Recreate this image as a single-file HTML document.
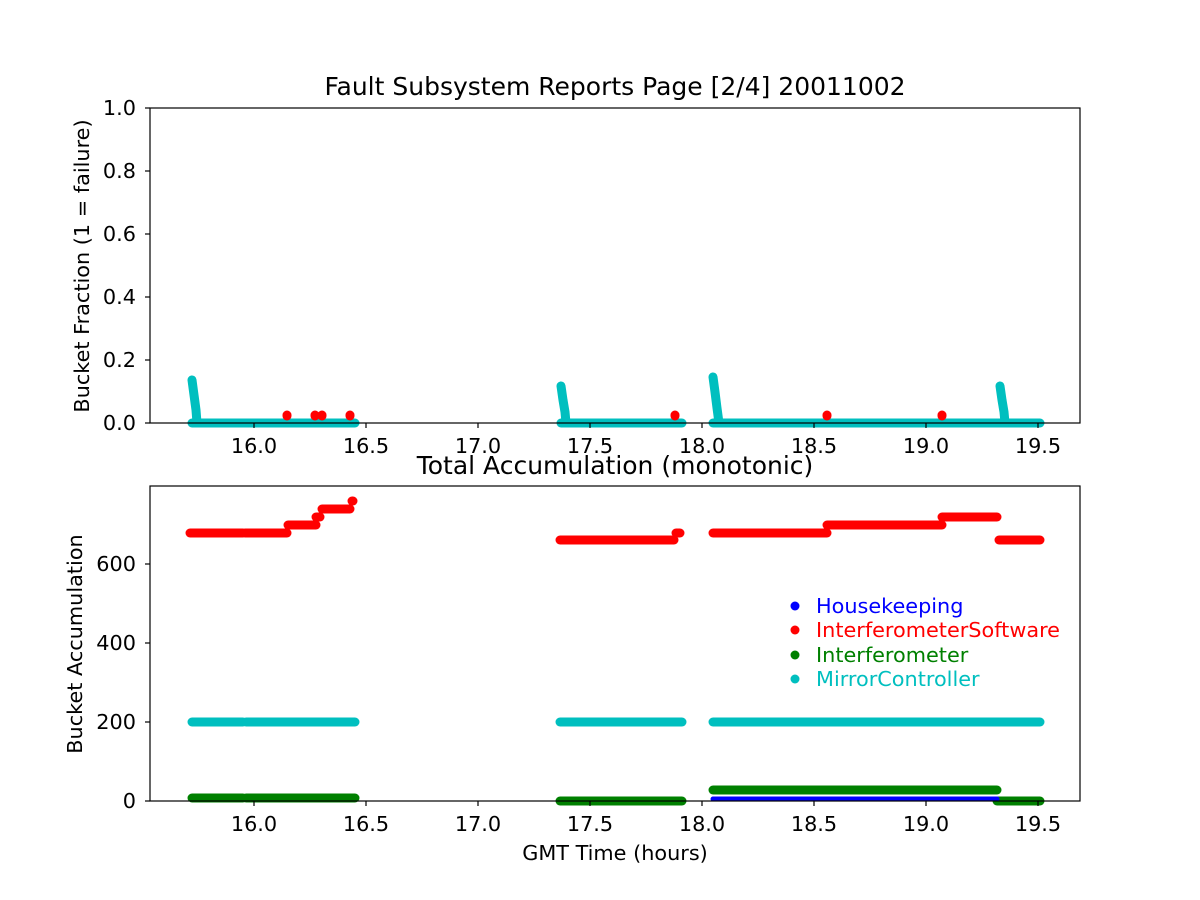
<!DOCTYPE html>
<html><head><meta charset="utf-8"><style>body{margin:0;background:#fff}svg{display:block}text{font-family:"DejaVu Sans","Liberation Sans",sans-serif;font-size:20.8px;fill:#000}</style></head><body>
<svg width="1200" height="900" viewBox="0 0 1200 900" xmlns="http://www.w3.org/2000/svg">
<rect width="1200" height="900" fill="#fff"/>
<g stroke-linecap="round" fill="none" stroke-width="9">
<g stroke="#00bfbf">
<polyline points="192,380 194,395 196,410 197,423"/>
<line x1="192" y1="423" x2="355" y2="423"/>
<polyline points="561,386 563,400 565,412 566,423"/>
<line x1="561" y1="423" x2="682" y2="423"/>
<polyline points="713,377 715,392 717,408 719,423"/>
<line x1="713" y1="423" x2="1040" y2="423"/>
<polyline points="1000,386 1002,400 1004,412 1005,423"/>
</g>
<g stroke="#ff0000">
<line x1="287" y1="415" x2="287" y2="416"/><line x1="315" y1="415" x2="315" y2="416"/><line x1="322" y1="415" x2="322" y2="416"/><line x1="350" y1="415" x2="350" y2="416"/><line x1="675" y1="415" x2="675" y2="416"/><line x1="827" y1="415" x2="827" y2="416"/><line x1="942" y1="415" x2="942" y2="416"/>
</g>
<g stroke="#00bfbf">
<line x1="192" y1="722" x2="243" y2="722"/><line x1="246" y1="722" x2="355" y2="722"/><line x1="560" y1="722" x2="682" y2="722"/><line x1="713" y1="722" x2="1040" y2="722"/>
</g>
<g stroke="#008000">
<line x1="192" y1="798" x2="243" y2="798"/><line x1="246" y1="798" x2="355" y2="798"/><line x1="560" y1="801" x2="682" y2="801"/><line x1="713" y1="790" x2="997" y2="790"/><line x1="997" y1="801" x2="1040" y2="801"/>
</g>
<line stroke="#0000ff" stroke-width="5" x1="713" y1="799" x2="997" y2="799"/>
<g stroke="#ff0000">
<line x1="190" y1="533" x2="243" y2="533"/><line x1="245" y1="533" x2="287" y2="533"/><line x1="288" y1="525" x2="316" y2="525"/><line x1="316" y1="517" x2="320" y2="517"/><line x1="322" y1="509" x2="350" y2="509"/><line x1="352" y1="501" x2="353" y2="501"/>
<line x1="560" y1="540" x2="674" y2="540"/><line x1="676" y1="533" x2="680" y2="533"/>
<line x1="713" y1="533" x2="827" y2="533"/><line x1="827" y1="525" x2="942" y2="525"/><line x1="942" y1="517" x2="997" y2="517"/><line x1="999" y1="540" x2="1040" y2="540"/>
</g>
</g>
<g fill="none" stroke="#000" stroke-width="1.2">
<rect x="150" y="108" width="930" height="315"/>
<rect x="150" y="486" width="930" height="315"/>
</g>
<g stroke="#000" stroke-width="1.2">
<line x1="254" y1="423" x2="254" y2="428"/><line x1="366" y1="423" x2="366" y2="428"/><line x1="478" y1="423" x2="478" y2="428"/><line x1="590" y1="423" x2="590" y2="428"/><line x1="702" y1="423" x2="702" y2="428"/><line x1="814" y1="423" x2="814" y2="428"/><line x1="926" y1="423" x2="926" y2="428"/><line x1="1038" y1="423" x2="1038" y2="428"/>
<line x1="254" y1="801" x2="254" y2="806"/><line x1="366" y1="801" x2="366" y2="806"/><line x1="478" y1="801" x2="478" y2="806"/><line x1="590" y1="801" x2="590" y2="806"/><line x1="702" y1="801" x2="702" y2="806"/><line x1="814" y1="801" x2="814" y2="806"/><line x1="926" y1="801" x2="926" y2="806"/><line x1="1038" y1="801" x2="1038" y2="806"/>
<line x1="145" y1="423" x2="150" y2="423"/><line x1="145" y1="360" x2="150" y2="360"/><line x1="145" y1="297" x2="150" y2="297"/><line x1="145" y1="234" x2="150" y2="234"/><line x1="145" y1="171" x2="150" y2="171"/><line x1="145" y1="108" x2="150" y2="108"/>
<line x1="145" y1="801" x2="150" y2="801"/><line x1="145" y1="722" x2="150" y2="722"/><line x1="145" y1="643" x2="150" y2="643"/><line x1="145" y1="564" x2="150" y2="564"/>
</g>
<g text-anchor="middle">
<text x="254" y="453">16.0</text><text x="366" y="453">16.5</text><text x="478" y="453">17.0</text><text x="590" y="453">17.5</text><text x="702" y="453">18.0</text><text x="814" y="453">18.5</text><text x="926" y="453">19.0</text><text x="1038" y="453">19.5</text>
<text x="254" y="831">16.0</text><text x="366" y="831">16.5</text><text x="478" y="831">17.0</text><text x="590" y="831">17.5</text><text x="702" y="831">18.0</text><text x="814" y="831">18.5</text><text x="926" y="831">19.0</text><text x="1038" y="831">19.5</text>
<text x="615" y="95" style="font-size:25px">Fault Subsystem Reports Page [2/4] 20011002</text>
<text x="615" y="474" style="font-size:25px">Total Accumulation (monotonic)</text>
<text x="615" y="860">GMT Time (hours)</text>
</g>
<g text-anchor="end">
<text x="136" y="430">0.0</text><text x="136" y="367">0.2</text><text x="136" y="304">0.4</text><text x="136" y="241">0.6</text><text x="136" y="178">0.8</text><text x="136" y="115">1.0</text>
<text x="136" y="808">0</text><text x="136" y="729">200</text><text x="136" y="650">400</text><text x="136" y="571">600</text>
</g>
<text transform="translate(89,266) rotate(-90)" text-anchor="middle">Bucket Fraction (1 = failure)</text>
<text transform="translate(82,644) rotate(-90)" text-anchor="middle">Bucket Accumulation</text>
<g>
<circle cx="795" cy="606" r="4.5" fill="#0000ff"/><text x="816" y="613" style="fill:#0000ff">Housekeeping</text>
<circle cx="795" cy="630" r="4.5" fill="#ff0000"/><text x="816" y="637" style="fill:#ff0000">InterferometerSoftware</text>
<circle cx="795" cy="655" r="4.5" fill="#008000"/><text x="816" y="662" style="fill:#008000">Interferometer</text>
<circle cx="795" cy="679" r="4.5" fill="#00bfbf"/><text x="816" y="686" style="fill:#00bfbf">MirrorController</text>
</g>
</svg>
</body></html>
